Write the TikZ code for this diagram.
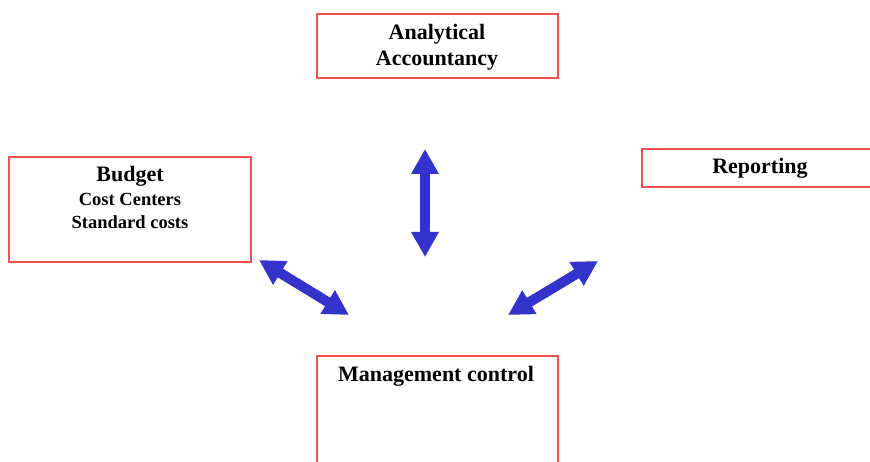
\documentclass[tikz,border=0pt]{standalone}
\usepackage{fontspec}
\setmainfont{Liberation Serif}
\usetikzlibrary{arrows.meta}
\definecolor{boxred}{RGB}{238,82,82}
\definecolor{arrowblue}{RGB}{51,51,204}
\begin{document}
\begin{tikzpicture}[x=1pt,y=-1pt,
  frame/.style={draw=boxred, line width=1.5pt, inner sep=0pt},
  big/.style={font=\bfseries\fontsize{22}{26}\selectfont, align=center, inner sep=0pt},
  small/.style={font=\bfseries\fontsize{18.5}{23}\selectfont, align=center, inner sep=0pt},
  link/.style={draw=arrowblue, line width=10pt,
    {Triangle[length=25pt,width=26pt]}-{Triangle[length=25pt,width=26pt]}}
]
\clip (0,0) rectangle (870,462);

% boxes
\node[frame, minimum width=241pt, minimum height=64pt] (acc) at (437.5,46) {};
\node[frame, minimum width=242pt, minimum height=105pt] (bud) at (130,209.5) {};
\node[frame, minimum width=236pt, minimum height=38pt] (rep) at (760,168) {};
\node[frame, minimum width=241pt, minimum height=130pt] (mgt) at (437.5,421) {};

% labels
\node[big] (accT) at (437,47) {Analytical\\Accountancy};
\node[big] (budT) at (130,176) {Budget};
\node[small] (budS) at (130,211) {Cost Centers\\Standard costs};
\node[big] (repT) at (760,168) {Reporting};
\node[big] (mgtT) at (436,376) {Management control};

% arrow end points
\coordinate (vTop) at (425,149);
\coordinate (vBot) at (425,257);
\coordinate (lA) at (259,260);
\coordinate (lB) at (349,315);
\coordinate (rA) at (598,261);
\coordinate (rB) at (508,315);

% double arrows
\draw[link] (vTop) -- (vBot);
\draw[link] (lA) -- (lB);
\draw[link] (rA) -- (rB);
\end{tikzpicture}
\end{document}
